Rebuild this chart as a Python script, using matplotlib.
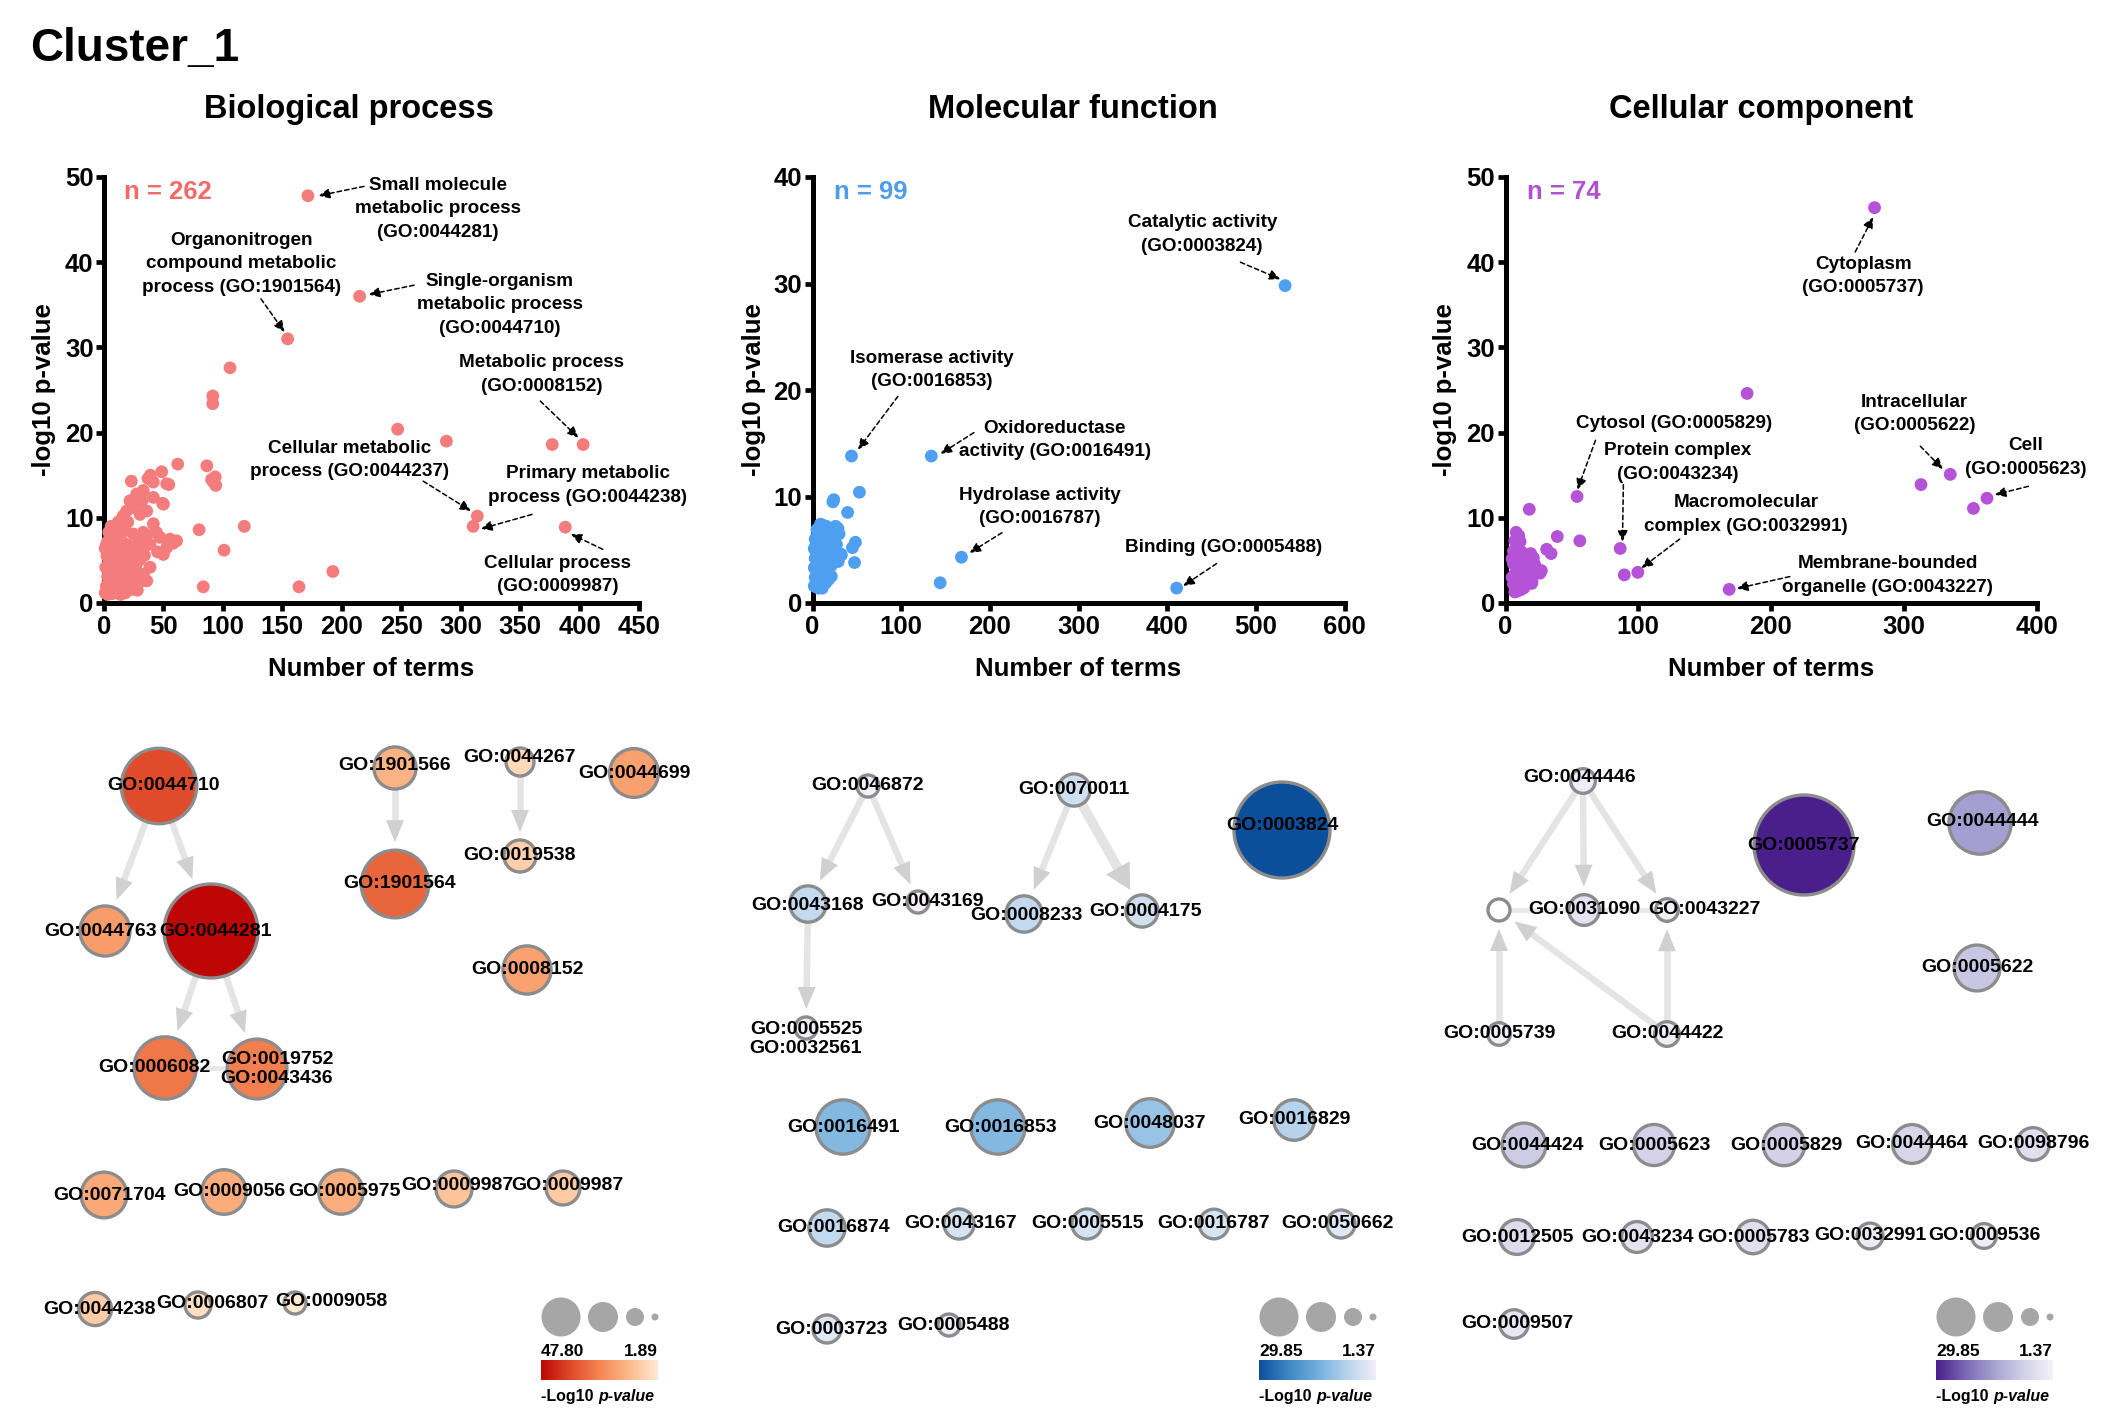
import numpy as np
import matplotlib
matplotlib.use('Agg')
import matplotlib.pyplot as plt
from matplotlib import font_manager as fm
from matplotlib.colors import LinearSegmentedColormap, Normalize
from matplotlib.patches import Circle, Polygon

# ---------------- DATA ----------------
panel_titles = ["Biological process", "Molecular function", "Cellular component"]
n_labels = ["n = 262", "n = 99", "n = 74"]

bp_x = [171.5, 215, 154.5, 106, 91.5, 91.5, 247, 288, 377, 403, 314, 310.5, 388, 118, 80, 101, 192.5, 83.5, 164,
        62, 86.5, 90.5, 93.5, 94, 92,
        48.5, 54.5, 50, 39, 37, 23, 41.5, 52.7, 27.5, 33, 41.5, 49.3, 21.9, 24.6, 30.3, 35.9, 28, 32, 19, 16, 12, 17.7,
        9.3, 24.6, 33, 41.5, 47.1, 55.5, 61, 38.7, 49.9, 52.7, 30.3, 38.7, 31.7, 21.9, 28, 36, 44, 58, 20, 14, 6, 4,
        35, 45, 33, 36, 27, 25,
        1, 2, 3, 1.5, 2.5, 1, 3, 4, 5, 6, 5, 7, 6, 8, 9, 10, 8, 11, 9, 12, 12, 13, 14, 15, 13, 16, 16, 17, 18, 19, 17,
        20, 20, 21, 22, 23, 22, 24, 26, 25, 27, 3, 7, 11, 14, 18, 2, 4, 7, 10, 15, 19, 23, 26, 29, 30, 28, 32, 34]
bp_y = [47.8, 36.0, 31.0, 27.6, 24.3, 23.4, 20.4, 19.0, 18.6, 18.6, 10.2, 9.0, 8.9, 9.0, 8.6, 6.2, 3.7, 1.9, 1.9,
        16.3, 16.1, 14.5, 14.8, 13.8, 14.2,
        15.4, 13.9, 11.6, 15.0, 14.6, 14.3, 14.2, 14.0, 12.8, 13.2, 12.4, 11.7, 12.0, 11.2, 10.4, 10.8, 11.8, 12.0, 10.8,
        10.2, 9.5, 8.5, 8.1, 8.1, 8.3, 9.3, 7.7, 7.5, 7.3, 6.9, 5.7, 6.5, 5.1, 4.2, 2.6, 1.8, 7.9, 8.0, 8.3, 7.0, 9.5,
        8.8, 9.0, 8.3, 6.8, 6.0, 3.4, 2.6, 4.5, 3.0,
        1.2, 2.0, 3.1, 4.2, 5.5, 6.4, 7.2, 1.5, 2.6, 3.8, 5.0, 6.1, 7.0, 1.3, 2.2, 3.3, 4.5, 5.6, 6.6, 7.4, 1.8, 2.9,
        4.0, 5.1, 6.3, 7.1, 1.5, 2.5, 3.6, 4.8, 5.9, 6.8, 1.9, 3.2, 4.2, 5.5, 6.4, 2.4, 3.8, 5.8, 6.7, 1.0, 1.1, 1.2,
        1.0, 1.2, 6.8, 4.6, 2.9, 4.9, 2.3, 2.1, 1.6, 2.0, 3.5, 6.0, 1.5, 7.4, 5.6]

mf_x = [533, 44, 134, 52.9, 23, 24, 39.6, 168, 144, 410.7, 48.4, 45, 47.4, 27, 15.6, 32,
        11.8, 28.7, 6.2, 17.5, 32.5, 25, 10, 17.5, 8.1, 4.4, 13.7, 21.2, 2, 3, 2, 3, 2, 3, 5, 9, 6, 7, 8, 9, 12, 14,
        12, 10, 15, 16, 19, 20, 22, 24, 26, 18, 11, 7, 5, 4, 13, 17, 27, 30, 21, 29, 6]
mf_y = [29.8, 13.8, 13.8, 10.4, 9.5, 9.7, 8.5, 4.3, 1.9, 1.4, 5.7, 5.2, 3.8, 6.8, 7.2, 4.6,
        7.3, 7.0, 6.5, 6.1, 4.5, 4.2, 4.0, 3.1, 1.8, 1.5, 2.5, 2.5, 1.6, 2.4, 3.3, 4.2, 5.1, 6.0, 6.9, 7.4, 2.0, 3.0,
        4.8, 5.6, 6.4, 5.0, 3.6, 2.7, 1.9, 3.8, 4.6, 5.7, 6.8, 5.1, 7.2, 2.2, 1.4, 1.4, 3.6, 5.4, 4.4, 6.9, 5.5, 6.5,
        3.5, 3.9, 5.0]

cc_x = [278, 182, 313, 335, 352.5, 362.7, 53.9, 17.9, 39, 56, 86.4, 89.5, 99.7, 168.5, 31, 34.3, 21, 26,
        8, 10, 7, 9, 6, 8, 10, 6, 9, 7, 10, 6, 8, 9, 11, 12, 12, 13, 11, 14, 15, 16, 17, 18, 19, 20, 22, 24, 27, 14,
        5, 5, 7, 12, 19.7]
cc_y = [46.4, 24.6, 13.9, 15.1, 11.1, 12.3, 12.5, 11.0, 7.8, 7.3, 6.4, 3.3, 3.6, 1.6, 6.3, 5.8, 5.3, 3.5,
        8.3, 7.9, 7.3, 6.7, 6.1, 5.5, 5.0, 4.6, 4.0, 3.4, 2.8, 2.2, 1.6, 1.4, 7.2, 6.0, 4.5, 3.0, 2.0, 5.3, 3.8, 2.7,
        4.8, 3.3, 5.8, 2.5, 4.5, 3.9, 3.8, 1.8, 3.0, 5.2, 1.3, 1.6, 2.3]

bp_ann_text = ["Small molecule\nmetabolic process\n(GO:0044281)",
               "Organonitrogen\ncompound metabolic\nprocess (GO:1901564)",
               "Single-organism\nmetabolic process\n(GO:0044710)",
               "Metabolic process\n(GO:0008152)",
               "Cellular metabolic\nprocess (GO:0044237)",
               "Primary metabolic\nprocess (GO:0044238)",
               "Cellular process\n(GO:0009987)"]
bp_ann_xy = [(281, 46.3), (115.5, 39.8), (332.7, 35.0), (368, 26.8), (206.5, 16.8), (407, 13.8), (381.6, 3.3)]
bp_ann_from = [(218.7, 48.9), (132, 35.7), (260.8, 37.3), (367, 23.7), (268.5, 14.3), (360, 10.4), (419.5, 6.3)]
bp_ann_to = [(180.5, 47.8), (151.8, 31.8), (222.6, 36.2), (399, 19.4), (308.6, 10.8), (317, 8.7), (392.7, 8.1)]

mf_ann_text = ["Catalytic activity\n(GO:0003824)", "Isomerase activity\n(GO:0016853)",
               "Oxidoreductase\nactivity (GO:0016491)", "Hydrolase activity\n(GO:0016787)",
               "Binding (GO:0005488)"]
mf_ann_xy = [(439.6, 34.6), (134, 21.9), (273.3, 15.3), (256, 9.0), (464, 5.2)]
mf_ann_from = [(482.6, 32.0), (96.3, 19.4), (182, 16.0), (213.7, 6.6), (455.7, 3.7)]
mf_ann_to = [(527.6, 30.4), (51.3, 14.4), (144.3, 14.0), (177, 4.7), (418, 1.6)]

cc_ann_text = ["Cytoplasm\n(GO:0005737)", "Cytosol (GO:0005829)", "Protein complex\n(GO:0043234)",
               "Macromolecular\ncomplex (GO:0032991)", "Membrane-bounded\norganelle (GO:0043227)",
               "Intracellular\n(GO:0005622)", "Cell\n(GO:0005623)"]
cc_ann_xy = [(269.5, 38.4), (126.8, 21.1), (129.5, 16.5), (181.4, 10.4), (288, 3.25), (308, 22.2), (392, 17.1)]
cc_ann_from = [(263.4, 41.2), (67.8, 19.1), (88.8, 13.9), (131.2, 7.5), (214.2, 3.1), (312.5, 18.4), (393.9, 13.7)]
cc_ann_to = [(277, 45.3), (54.2, 13.3), (88.1, 7.2), (102.4, 4.1), (174.2, 1.7), (329.5, 15.7), (368.5, 12.7)]

# network nodes (ids, -log10 p, layout position, label offsets)
bp_ids = ['GO:0044710', 'GO:0044763', 'GO:0044281', 'GO:1901566', 'GO:1901564', 'GO:0044267', 'GO:0019538',
          'GO:0044699', 'GO:0008152', 'GO:0006082', 'GO:0019752\nGO:0043436', 'GO:0071704', 'GO:0009056',
          'GO:0005975', 'GO:0009987', 'GO:0009987', 'GO:0044238', 'GO:0006807', 'GO:0009058']
bp_vals = [36.0, 19.8, 47.8, 14.7, 31.0, 5.7, 8.3, 19.0, 18.6, 27.6, 26.0, 17.0, 16.3, 16.2, 10.8, 9.5, 9.0, 4.5, 1.89]
bp_nx = [159, 105, 211, 395, 395, 520, 520, 634, 527, 165, 257, 104, 224, 341, 454, 563, 95, 198, 295]
bp_ny = [786, 931, 931, 768, 884, 762, 856, 773, 970, 1068, 1069, 1195, 1192, 1192, 1189, 1188, 1309, 1305, 1303]
bp_ldx = [4, -4, 5, 0, 5, 0, 0, 0, 0, -11, 20, 6, 5, 3, 3, 4, 4, 14, 36]
bp_ldy = [0, 0, 0, -3, 0, -5, 0, 0, 0, 0, 0, 0, 0, 0, -3, -3, 0, -2, -2]
bp_edges = [(0, 1), (0, 2), (2, 9), (2, 10), (3, 4), (5, 6)]
bp_edge_w = [1, 1, 1, 1, 1, 1]
bp_links = [(9, 10)]

mf_ids = ['GO:0046872', 'GO:0070011', 'GO:0003824', 'GO:0043168', 'GO:0043169', 'GO:0008233', 'GO:0004175',
          'GO:0005525\nGO:0032561', 'GO:0016491', 'GO:0016853', 'GO:0048037', 'GO:0016829', 'GO:0016874',
          'GO:0043167', 'GO:0005515', 'GO:0016787', 'GO:0050662', 'GO:0003723', 'GO:0005488']
mf_vals = [1.4, 5.3, 29.85, 6.9, 1.4, 6.9, 5.3, 1.4, 13.8, 13.8, 11.6, 8.5, 6.9, 4.5, 4.5, 4.3, 3.7, 3.7, 1.37]
mf_nx = [868, 1074, 1282, 808, 918, 1024, 1142, 806, 843, 998, 1150, 1294, 827, 959, 1087, 1214, 1341, 827, 949]
mf_ny = [786, 790, 830, 904, 902, 914, 911, 1028, 1127, 1127, 1123, 1120, 1228, 1224, 1224, 1224, 1224, 1329, 1325]
mf_ldx = [0, 0, 0, 0, 9, 2, 3, 0, 0, 3, 0, 0, 7, 2, 0, 0, -4, 4, 5]
mf_ldy = [0, 0, -4, 1, -1, 2, 0, 11, 0, 0, 0, -1, 0, 0, 0, 0, 0, 0, 0]
mf_edges = [(0, 3), (0, 4), (3, 7), (1, 5), (1, 6)]
mf_edge_w = [1, 1, 1, 1, 1.5]
mf_links = []

cc_ids = ['GO:0044446', '', 'GO:0031090', 'GO:0043227', 'GO:0005739', 'GO:0044422', 'GO:0005737', 'GO:0044444',
          'GO:0005622', 'GO:0044424', 'GO:0005623', 'GO:0005829', 'GO:0044464', 'GO:0098796', 'GO:0012505',
          'GO:0043234', 'GO:0005783', 'GO:0032991', 'GO:0009536', 'GO:0009507']
cc_vals = [2.9, np.nan, 6.4, 1.7, 1.7, 2.9, 46.5, 24.7, 15.2, 14.0, 12.4, 12.6, 11.1, 7.6, 8.8, 6.5, 8.0, 3.6, 3.0, 5.2]
cc_nx = [1583, 1499, 1584, 1667, 1499, 1667, 1804, 1980, 1977, 1524, 1654, 1784, 1912, 2033, 1517, 1637, 1753,
         1870, 1984, 1514]
cc_ny = [781, 910, 910, 910, 1034, 1034, 845, 823, 968, 1145, 1145, 1145, 1144, 1144, 1237, 1237, 1237, 1236,
         1236, 1324]
cc_ldx = [-3, 0, 0, 37, 0, 0, 0, 3, 0, 3, 0, 2, 0, 0, 0, 0, 0, 0, 0, 3]
cc_ldy = [-3, 0, 0, 0, 0, 0, 0, -2, 0, 0, 0, 0, 0, 0, 0, 0, 0, 0, 0, 0]
cc_edges = [(0, 1), (0, 2), (0, 3), (4, 1), (5, 1), (5, 3)]
cc_edge_w = [1, 1, 1, 1, 1, 1]
cc_links = [(1, 2), (2, 3)]

legend_lo = ["1.89", "1.37", "1.37"]
legend_hi = ["47.80", "29.85", "29.85"]

# ---------------- STYLE ----------------
def has_font(name):
    try:
        fm.findfont(fm.FontProperties(family=name), fallback_to_default=False)
        return True
    except Exception:
        return False

BASE = 'Liberation Sans' if has_font('Liberation Sans') else 'DejaVu Sans'
plt.rcParams['font.family'] = [BASE, 'DejaVu Sans']
plt.rcParams['font.weight'] = 'bold'

W, H = 2119, 1413
fig = plt.figure(figsize=(W / 100, H / 100), dpi=100)
fig.patch.set_facecolor('white')

# network / overlay axes in pixel units
net = fig.add_axes([0, 0, 1, 1])
net.set_xlim(0, W)
net.set_ylim(H, 0)
net.axis('off')

scatter_colors = ['#F47C7C', '#4F9FF0', '#B452D8']
n_colors = ['#F26B6B', '#4D9DEB', '#B050D5']

cmaps = [LinearSegmentedColormap.from_list('bp', ['#FFEAD2', '#FCB98A', '#F58552', '#DF4A2A', '#BE0606']),
         LinearSegmentedColormap.from_list('mf', ['#F2EFF7', '#B5D3EC', '#72AEDD', '#3F87C4', '#0B4F9A']),
         LinearSegmentedColormap.from_list('cc', ['#F3F1F8', '#D3D0E8', '#A7A3D2', '#7B68B3', '#4A1F8C'])]

fig.text(30 / W, 1 - 61 / H, "Cluster_1", fontsize=33, fontweight='bold', ha='left', va='baseline')
title_cx = [349, 1073, 1761]
for t, cx in zip(panel_titles, title_cx):
    fig.text(cx / W, 1 - 118 / H, t, fontsize=23.5, fontweight='bold', ha='center', va='baseline')

# ---------------- SCATTERS ----------------
ax_left_px = [104, 812.5, 1505.5]
ax_w_px = [535, 532, 531]
top_px, bot_px = 177, 603
xmaxs = [450, 600, 400]
xsteps = [50, 100, 100]
ymaxs = [50, 40, 50]
ylab_x = [-0.09, -0.087, -0.091]
scat_x = [bp_x, mf_x, cc_x]
scat_y = [bp_y, mf_y, cc_y]
anns = [(bp_ann_text, bp_ann_xy, bp_ann_from, bp_ann_to),
        (mf_ann_text, mf_ann_xy, mf_ann_from, mf_ann_to),
        (cc_ann_text, cc_ann_xy, cc_ann_from, cc_ann_to)]
n_x = [124, 834, 1527]

for i in range(3):
    rect = [ax_left_px[i] / W, 1 - bot_px / H, ax_w_px[i] / W, (bot_px - top_px) / H]
    ax = fig.add_axes(rect)
    ax.set_facecolor('none')
    ax.scatter(scat_x[i], scat_y[i], s=85, color=scatter_colors[i], edgecolors='none', zorder=3, clip_on=False)
    ax.set_xlim(0, xmaxs[i])
    ax.set_ylim(0, ymaxs[i])
    ax.set_xticks(np.arange(0, xmaxs[i] + 1, xsteps[i]))
    ax.set_yticks(np.arange(0, ymaxs[i] + 1, 10))
    for s in ['top', 'right']:
        ax.spines[s].set_visible(False)
    for s in ['left', 'bottom']:
        ax.spines[s].set_linewidth(3.6)
        ax.spines[s].set_capstyle('projecting')
    ax.tick_params(axis='both', width=3.4, length=5.5, direction='out', labelsize=18.5)
    ax.tick_params(axis='y', pad=2)
    ax.tick_params(axis='x', pad=3.5)
    for lbl in ax.get_xticklabels() + ax.get_yticklabels():
        lbl.set_fontweight('bold')
    ax.set_xlabel("Number of terms", fontsize=18.5, fontweight='bold')
    ax.set_ylabel("-log10 p-value", fontsize=18.5, fontweight='bold')
    ax.xaxis.set_label_coords(0.5, -0.126)
    ax.yaxis.set_label_coords(ylab_x[i], 0.5)
    ax.text((n_x[i] - ax_left_px[i]) / ax_w_px[i], (bot_px - 192) / (bot_px - top_px), n_labels[i],
            transform=ax.transAxes, color=n_colors[i], fontsize=18.5, fontweight='bold', ha='left', va='center')
    txts, xys, frs, tos = anns[i]
    for t, xy, fr, to in zip(txts, xys, frs, tos):
        ax.text(xy[0], xy[1], t, ha='center', va='center', fontsize=13.6, fontweight='bold',
                linespacing=1.5, zorder=5, clip_on=False)
        ax.annotate('', xy=to, xytext=fr,
                    arrowprops=dict(arrowstyle='-|>,head_length=0.55,head_width=0.25', lw=1.1,
                                    linestyle=(0, (3, 2)), color='black', shrinkA=0, shrinkB=0,
                                    mutation_scale=12),
                    annotation_clip=False, zorder=5)

# ---------------- NETWORKS ----------------
nets = [(bp_ids, bp_vals, bp_nx, bp_ny, bp_ldx, bp_ldy, bp_edges, bp_edge_w, bp_links),
        (mf_ids, mf_vals, mf_nx, mf_ny, mf_ldx, mf_ldy, mf_edges, mf_edge_w, mf_links),
        (cc_ids, cc_vals, cc_nx, cc_ny, cc_ldx, cc_ldy, cc_edges, cc_edge_w, cc_links)]
vranges = [(1.89, 47.8), (1.37, 29.85), (1.37, 46.5)]
rmaxs = [47, 48, 50]
R_MIN = 11
legend_x0 = [541, 1259, 1936]

EDGE_C = '#E4E4E4'
HEAD_C = '#D0D0D0'
for i in range(3):
    ids, vals, nx_, ny_, ldx, ldy, edges, ew, links = nets[i]
    vmin, vmax = vranges[i]
    norm = Normalize(vmin, vmax)
    cmap = cmaps[i]
    rad = []
    for v in vals:
        if np.isnan(v):
            rad.append(R_MIN)
        else:
            rad.append(R_MIN + (v - vmin) / (vmax - vmin) * (rmaxs[i] - R_MIN))
    # plain links
    for a, b in links:
        net.plot([nx_[a], nx_[b]], [ny_[a], ny_[b]], color='#E8E8E8', lw=3.5, zorder=1,
                 solid_capstyle='butt')
    # directed edges
    for (a, b), w in zip(edges, ew):
        p = np.array([nx_[a], ny_[a]], float)
        c = np.array([nx_[b], ny_[b]], float)
        d = c - p
        L = np.hypot(*d)
        u = d / L
        nvec = np.array([-u[1], u[0]])
        start = p + u * rad[a]
        tip = c - u * (rad[b] + 8)
        hl = 22 * (1 + 0.3 * (w - 1))
        hw = 18 * w
        base = tip - u * hl
        net.plot([start[0], base[0] + u[0] * 2], [start[1], base[1] + u[1] * 2], color=EDGE_C,
                 lw=6.5 * w * 0.72, solid_capstyle='butt', zorder=1)
        tri = Polygon([tip, base + nvec * hw / 2, base - nvec * hw / 2], closed=True,
                      facecolor=HEAD_C, edgecolor='none', zorder=1.5)
        net.add_patch(tri)
    # nodes
    for k in range(len(ids)):
        v = vals[k]
        fc = 'white' if np.isnan(v) else cmap(norm(v))
        net.add_patch(Circle((nx_[k], ny_[k]), rad[k], facecolor=fc, edgecolor='#8C8C8C', lw=2.4, zorder=3))
        if ids[k]:
            net.text(nx_[k] + ldx[k], ny_[k] + ldy[k], ids[k], ha='center', va='center', fontsize=14,
                     fontweight='bold', color='black', zorder=4, linespacing=1.2)
    # legend
    x0 = legend_x0[i]
    for dx, r in zip([20, 62, 94, 114], [19.5, 15, 9, 3.5]):
        net.add_patch(Circle((x0 + dx, 1317), r, facecolor='#A6A6A6', edgecolor='none', zorder=3))
    net.text(x0, 1351, legend_hi[i], ha='left', va='center', fontsize=12.5, fontweight='bold')
    net.text(x0 + 117, 1351, legend_lo[i], ha='right', va='center', fontsize=12.5, fontweight='bold')
    grad = np.linspace(vmax, vmin, 256)[None, :]
    net.imshow(grad, cmap=cmap, norm=norm, extent=[x0, x0 + 117, 1380, 1360], aspect='auto', zorder=2)
    net.text(x0 + 57, 1397, '-Log10 ', ha='right', va='center', fontsize=11.5, fontweight='bold')
    net.text(x0 + 57, 1397, 'p-value', ha='left', va='center', fontsize=11.5, fontweight='bold',
             fontstyle='italic')

net.set_xlim(0, W)
net.set_ylim(H, 0)

fig.savefig('out.png', dpi=100, facecolor='white')
